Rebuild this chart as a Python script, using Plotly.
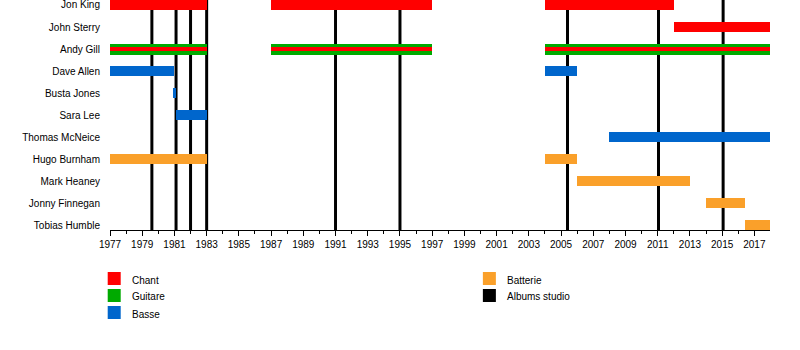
import plotly.graph_objects as go

# ---------------- data ----------------
END = 2017.97
members = ["Jon King", "John Sterry", "Andy Gill", "Dave Allen", "Busta Jones", "Sara Lee",
           "Thomas McNeice", "Hugo Burnham", "Mark Heaney", "Jonny Finnegan", "Tobias Humble"]

vocal_names = ["Jon King", "Jon King", "Jon King", "John Sterry"]
vocal_start = [1977, 1987, 2004, 2012]
vocal_end = [1983, 1997, 2012, END]

guitar_names = ["Andy Gill", "Andy Gill", "Andy Gill"]
guitar_start = [1977, 1987, 2004]
guitar_end = [1983, 1997, END]

# Andy Gill also sang (thin red stripe inside the guitar bar)
gvocal_names = ["Andy Gill", "Andy Gill", "Andy Gill"]
gvocal_start = [1977, 1987, 2004]
gvocal_end = [1983, 1997, END]

bass_names = ["Dave Allen", "Dave Allen", "Busta Jones", "Sara Lee", "Thomas McNeice"]
bass_start = [1977, 2004, 1980.94, 1981.08, 2008]
bass_end = [1981.0, 2006, 1981.12, 1983, END]

drum_names = ["Hugo Burnham", "Hugo Burnham", "Mark Heaney", "Jonny Finnegan", "Tobias Humble"]
drum_start = [1977, 2004, 2006, 2014, 2016.4]
drum_end = [1983, 2006, 2013, 2016.4, END]

albums = [1979.6, 1981.1, 1982.0, 1983.0, 1991.0, 1995.0, 2005.4, 2011.05, 2015.06]

tick_years = list(range(1977, 2018, 2))
legend_left = ["Chant", "Guitare", "Basse"]
legend_right = ["Batterie", "Albums studio"]

# ---------------- styles ----------------
RED = "#FF0000"
GREEN = "#00AA00"
BLUE = "#0066CC"
ORANGE = "#FAA02A"
BLACK = "#000000"
FONT = "Liberation Sans, Arial, sans-serif"

W, H = 800, 350
L, R_EDGE, T, B_EDGE = 110.3, 770, 0, 230

fig = go.Figure()


def add_bars(names, starts, ends, color, width):
    fig.add_trace(go.Bar(
        y=names, base=starts, x=[e - s for s, e in zip(starts, ends)],
        orientation="h", marker=dict(color=color, line=dict(width=0)),
        width=width, showlegend=False, hoverinfo="skip"))


add_bars(vocal_names, vocal_start, vocal_end, RED, 0.47)
add_bars(guitar_names, guitar_start, guitar_end, GREEN, 0.5)
add_bars(gvocal_names, gvocal_start, gvocal_end, RED, 0.18)
add_bars(bass_names, bass_start, bass_end, BLUE, 0.47)
add_bars(drum_names, drum_start, drum_end, ORANGE, 0.47)

shapes = []
for a in albums:
    shapes.append(dict(type="line", xref="x", yref="paper", x0=a, x1=a, y0=0, y1=1,
                       line=dict(color=BLACK, width=3), layer="below"))

pw = R_EDGE - L
ph = B_EDGE - T


def px2paper(px, py):
    return (px - L) / pw, (B_EDGE - py) / ph


annotations = []


def legend_item(label, color, sx, sy):
    x0, y1 = px2paper(sx, sy)
    x1, y0 = px2paper(sx + 13, sy + 13)
    shapes.append(dict(type="rect", xref="paper", yref="paper", x0=x0, x1=x1, y0=y0, y1=y1,
                       fillcolor=color, line=dict(width=0)))
    tx, ty = px2paper(sx + 22, sy + 8)
    annotations.append(dict(xref="paper", yref="paper", x=tx, y=ty, text=label, showarrow=False,
                            xanchor="left", yanchor="middle",
                            font=dict(family=FONT, size=10, color=BLACK)))


for lab, col, sy in zip(legend_left, [RED, GREEN, BLUE], [272, 289, 306]):
    legend_item(lab, col, 108, sy)
for lab, col, sy in zip(legend_right, [ORANGE, BLACK], [272, 289]):
    legend_item(lab, col, 483, sy)

fig.update_layout(
    width=W, height=H,
    margin=dict(l=L, r=W - R_EDGE, t=T, b=H - B_EDGE, pad=0),
    plot_bgcolor="white", paper_bgcolor="white",
    barmode="overlay",
    bargap=0,
    shapes=shapes,
    annotations=annotations,
    font=dict(family=FONT, size=10, color=BLACK),
    xaxis=dict(range=[1977, END], tickvals=tick_years, ticktext=[str(y) for y in tick_years],
               ticks="outside", ticklen=5, tickwidth=1, tickcolor=BLACK,
               minor=dict(dtick=1, tick0=1977, ticks="outside", ticklen=3, tickcolor=BLACK, showgrid=False),
               showline=True, linecolor=BLACK, linewidth=1,
               showgrid=False, zeroline=False, tickfont=dict(size=10, family=FONT, color=BLACK)),
    yaxis=dict(categoryorder="array", categoryarray=members, type="category",
               range=[10.227, -0.227], showgrid=False, zeroline=False, showline=False,
               ticks="", ticklabelstandoff=9, tickfont=dict(size=10, family=FONT, color=BLACK)),
)

fig.write_html("out.html")
